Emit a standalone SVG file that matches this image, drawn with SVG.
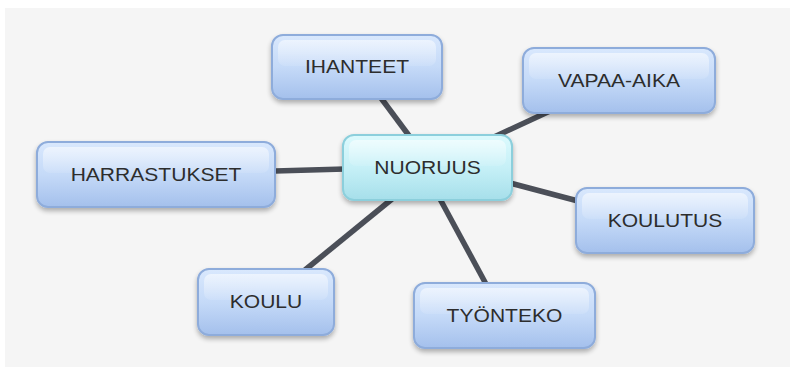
<svg xmlns="http://www.w3.org/2000/svg" width="790" height="367" viewBox="0 0 790 367">
<defs>
<linearGradient id="gb" x1="0" y1="0" x2="0" y2="1">
<stop offset="0" stop-color="#d9e8fd"/>
<stop offset="0.5" stop-color="#c5daf8"/>
<stop offset="1" stop-color="#a4c0ec"/>
</linearGradient>
<linearGradient id="gc" x1="0" y1="0" x2="0" y2="1">
<stop offset="0" stop-color="#dcfafd"/>
<stop offset="0.5" stop-color="#c6f0f7"/>
<stop offset="1" stop-color="#a6dfea"/>
</linearGradient>
<linearGradient id="hl" x1="0" y1="0" x2="0" y2="1">
<stop offset="0" stop-color="#ffffff" stop-opacity="0.55"/>
<stop offset="1" stop-color="#ffffff" stop-opacity="0.1"/>
</linearGradient>
<filter id="sh" x="-10%" y="-10%" width="120%" height="140%">
<feGaussianBlur in="SourceAlpha" stdDeviation="2.5"/>
<feOffset dy="3" result="b"/>
<feComponentTransfer><feFuncA type="linear" slope="0.3"/></feComponentTransfer>
<feMerge><feMergeNode/><feMergeNode in="SourceGraphic"/></feMerge>
</filter>
</defs>
<style>
.bg{fill:#f5f5f5}
.n{fill:url(#gb);stroke:#8eacdb;stroke-width:2;filter:url(#sh)}
.c{fill:url(#gc);stroke:#8ccfdc;stroke-width:2;filter:url(#sh)}
.h{fill:url(#hl);stroke:none}
.t{font-family:"Liberation Sans",Arial,sans-serif;font-size:18px;fill:#2d2d2d;text-anchor:middle}
.e{stroke:#4b4f58;stroke-width:5.5;stroke-linecap:butt;fill:none}
</style>
<rect class="bg" x="5" y="8" width="785" height="359"/>
<g id="connectors">
<line class="e" x1="381" y1="98" x2="410" y2="137"/>
<line class="e" x1="550" y1="111" x2="494" y2="137"/>
<line class="e" x1="275" y1="171" x2="345" y2="169"/>
<line class="e" x1="510" y1="183" x2="578" y2="201"/>
<line class="e" x1="305" y1="270" x2="392" y2="199"/>
<line class="e" x1="486" y1="284" x2="440" y2="199"/>
</g>
<g id="ihanteet">
<rect class="n" x="272" y="35" width="170" height="64" rx="11"/>
<rect class="h" x="278" y="40" width="158" height="26" rx="7"/>
<text class="t" transform="translate(357,73) scale(1.17,1)">IHANTEET</text>
</g>
<g id="vapaa-aika">
<rect class="n" x="523" y="48" width="192" height="65" rx="11"/>
<rect class="h" x="529" y="53" width="180" height="26" rx="7"/>
<text class="t" transform="translate(619,87) scale(1.17,1)">VAPAA-AIKA</text>
</g>
<g id="nuoruus">
<rect class="c" x="343" y="135" width="169" height="65" rx="11"/>
<rect class="h" x="349" y="140" width="157" height="26" rx="7"/>
<text class="t" transform="translate(427.5,174) scale(1.17,1)">NUORUUS</text>
</g>
<g id="harrastukset">
<rect class="n" x="37" y="142" width="238" height="65" rx="11"/>
<rect class="h" x="43" y="147" width="226" height="26" rx="7"/>
<text class="t" transform="translate(156,181) scale(1.17,1)">HARRASTUKSET</text>
</g>
<g id="koulutus">
<rect class="n" x="576" y="188" width="178" height="65" rx="11"/>
<rect class="h" x="582" y="193" width="166" height="26" rx="7"/>
<text class="t" transform="translate(665,227) scale(1.17,1)">KOULUTUS</text>
</g>
<g id="koulu">
<rect class="n" x="198" y="269" width="136" height="66" rx="11"/>
<rect class="h" x="204" y="274" width="124" height="26" rx="7"/>
<text class="t" transform="translate(266,308) scale(1.17,1)">KOULU</text>
</g>
<g id="tyonteko">
<rect class="n" x="414" y="283" width="181" height="65" rx="11"/>
<rect class="h" x="420" y="288" width="169" height="26" rx="7"/>
<text class="t" transform="translate(504.5,322) scale(1.17,1)">TYÖNTEKO</text>
</g>
</svg>
